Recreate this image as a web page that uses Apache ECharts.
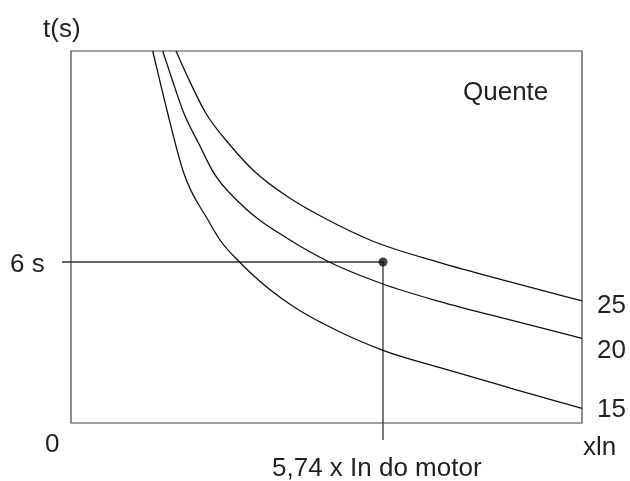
<!DOCTYPE html>
<html>
<head>
<meta charset="utf-8">
<script src="https://cdn.jsdelivr.net/npm/echarts@6/dist/echarts.min.js"></script>
<style>
html,body{margin:0;padding:0;background:#fff;}
#chart{width:630px;height:481px;}
</style>
</head>
<body>
<div id="chart"></div>
<script>
// Curve data: [multiple of In, time in s]
var curve15 = [[1.503,13.864],[1.772,11.601],[2.066,9.366],[2.520,7.565],[2.741,6.820],[3.100,6.000],[3.895,4.610],[4.213,4.185],[4.655,3.690],[5.740,2.709],[6.789,2.061],[8.077,1.304],[9.401,0.548]];
var curve20 = [[1.687,13.864],[1.853,12.846],[2.066,11.601],[2.364,10.360],[2.612,9.366],[3.109,8.188],[4.029,6.820],[4.752,6.000],[5.740,5.180],[6.789,4.521],[8.077,3.839],[9.401,3.157]];
var curve25 = [[1.932,13.864],[2.158,12.846],[2.465,11.601],[2.925,10.360],[3.367,9.391],[4.029,8.374],[4.765,7.528],[5.501,6.820],[6.789,5.974],[8.077,5.255],[9.401,4.547]];
var curveNames = ['15','20','25'];
var operatingPoint = [5.74, 6];
var guideLine = [[-0.166,6],[5.74,6],[5.74,-0.634]];
var xMax = 9.401, yMax = 13.864;

var FONT = 'Liberation Sans, Arial, sans-serif';
var TXT = '#231f20';
var chart = echarts.init(document.getElementById('chart'), null, {renderer:'canvas'});

// smooth monotone cubic path through pixel points (x strictly increasing)
function buildPath(p){
  var n = p.length, h = [], d = [], m = [];
  for (var i=0;i<n-1;i++){ h[i]=p[i+1][0]-p[i][0]; d[i]=(p[i+1][1]-p[i][1])/h[i]; }
  m[0]=d[0]; m[n-1]=d[n-2];
  for (var i=1;i<n-1;i++){
    if (d[i-1]*d[i] <= 0) { m[i]=0; continue; }
    m[i]=(d[i-1]*h[i]+d[i]*h[i-1])/(h[i-1]+h[i]);
  }
  var s='M'+p[0][0]+' '+p[0][1];
  for (var i=0;i<n-1;i++){
    var t=h[i]/3;
    s+=' C'+(p[i][0]+t)+' '+(p[i][1]+m[i]*t)+' '+(p[i+1][0]-t)+' '+(p[i+1][1]-m[i+1]*t)+' '+p[i+1][0]+' '+p[i+1][1];
  }
  return s;
}

function curve(name, data, dy){
  return {
    type:'custom', name:name, data:data, coordinateSystem:'cartesian2d', clip:false, z:3,
    renderItem:function(params, api){
      if (params.dataIndex !== 0) return null;
      var pts = data.map(function(v){ return api.coord(v); });
      var last = pts[pts.length-1];
      return {type:'group', children:[
        {type:'path', shape:{pathData:buildPath(pts)}, style:{stroke:'#111', lineWidth:1.3, fill:null}},
        {type:'text', x:last[0]+15, y:last[1]+dy, style:{text:name, font:'26px '+FONT, fill:TXT, textAlign:'left', textVerticalAlign:'middle'}}
      ]};
    }
  };
}

chart.setOption({
  animation:false,
  backgroundColor:'#fff',
  grid:{left:71, top:51, right:48, bottom:58, show:true, borderColor:'#444', borderWidth:1.2, backgroundColor:'transparent'},
  xAxis:{type:'value', min:0, max:xMax, axisLine:{show:false}, axisTick:{show:false}, axisLabel:{show:false}, splitLine:{show:false}},
  yAxis:{type:'value', min:0, max:yMax, axisLine:{show:false}, axisTick:{show:false}, axisLabel:{show:false}, splitLine:{show:false}},
  series:[
    curve(curveNames[0], curve15, 2),
    curve(curveNames[1], curve20, 13),
    curve(curveNames[2], curve25, 5),
    {type:'custom', data:guideLine, coordinateSystem:'cartesian2d', clip:false, z:2,
      renderItem:function(params, api){
        if (params.dataIndex !== 0) return null;
        var pts = guideLine.map(function(v){ return api.coord(v); });
        return {type:'polyline', shape:{points:pts}, style:{stroke:'#333', lineWidth:1.3, fill:null}};
      }},
    {type:'scatter', data:[operatingPoint], symbol:'circle', symbolSize:9,
      itemStyle:{color:'#111'}, z:5}
  ],
  graphic:[
    {type:'text', left:43, top:17, style:{text:'t(s)', font:'26px '+FONT, fill:TXT}},
    {type:'text', left:10, top:252, style:{text:'6 s', font:'26px '+FONT, fill:TXT}},
    {type:'text', left:45, top:432, style:{text:'0', font:'26px '+FONT, fill:TXT}},
    {type:'text', left:583, top:435, style:{text:'xln', font:'26px '+FONT, fill:TXT}},
    {type:'text', left:272, top:456, style:{text:'5,74 x In do motor', font:'26px '+FONT, fill:TXT}},
    {type:'text', left:463, top:80, style:{text:'Quente', font:'26px '+FONT, fill:TXT}}
  ]
});
</script>
</body>
</html>
